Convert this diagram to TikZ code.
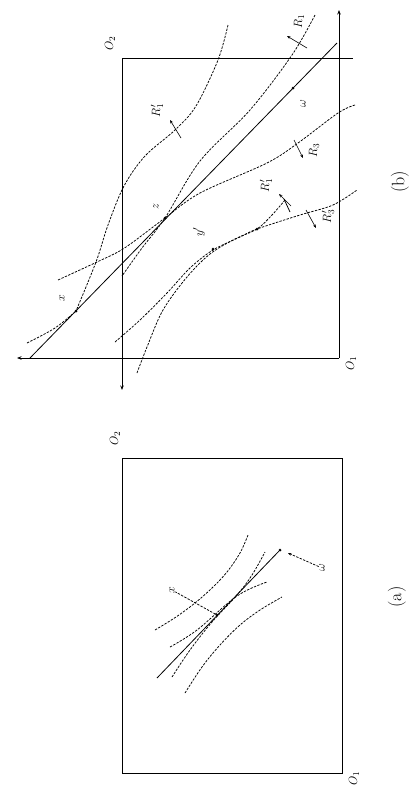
\documentclass[tikz,border=0pt]{standalone}
\usetikzlibrary{arrows.meta}
\begin{document}
\begin{tikzpicture}[x=1pt,y=-1pt,
  axisline/.style={line width=0.9pt},
  axisarrow/.style={line width=0.9pt,-{Stealth[length=4.5pt,width=3.5pt]}},
  solidline/.style={line width=0.8pt},
  curve/.style={line width=0.75pt,dash pattern=on 2.4pt off 1.3pt},
  pref/.style={line width=0.6pt,-{Stealth[length=3.5pt,width=2.8pt]}},
  lbl/.style={rotate=90,inner sep=0.5pt,font=\fontsize{13}{15}\selectfont},
  biglbl/.style={rotate=90,inner sep=0.5pt,font=\fontsize{18}{20}\selectfont},
  ptdot/.style={circle,fill,inner sep=0pt,minimum size=3pt}]
\useasboundingbox (0,0) rectangle (408,788);

% ================= (b) =================
\coordinate (O2b) at (122,58);
\coordinate (O1b) at (339,358);
\coordinate (bTopEnd) at (353,58);
\coordinate (bUp) at (339,10);
\coordinate (bLeft) at (17,358);
\coordinate (bDown) at (122,390);
\draw[axisline] (O2b) -- (bTopEnd);
\draw[axisarrow] (O2b) -- (bDown);
\draw[axisarrow] (O1b) -- (bUp);
\draw[axisarrow] (O1b) -- (bLeft);
\node[lbl] (o2b) at (110,43) {$O_2$};
\node[lbl] (o1b) at (351,363) {$O_1$};

% straight line through x, z, w
\coordinate (sA) at (30,358);
\coordinate (sB) at (337,43);
\draw[solidline] (sA) -- (sB);
\node[ptdot] (xb) at (76,311) {};
\node[ptdot] (zb) at (165,218) {};
\node[ptdot] (wb) at (293,88) {};
\node[ptdot] (yb) at (213,249) {};
\node[ptdot] (vb) at (257,229) {};
\node[lbl] (xlb) at (62,298) {$x$};
\node[lbl] (zlb) at (156,206) {$z$};
\node[lbl] (wlb) at (303,104) {$\omega$};
\node[lbl] (ylb) at (199,232) {$y'$};

% R_1 curve
\draw[curve] plot[smooth,tension=0.55] coordinates {(315,15) (292,55) (250,110) (200,161) (165,218) (142,248) (122,276)};
% R_3 curve
\draw[curve] plot[smooth,tension=0.55] coordinates {(355,105) (338,113) (298,143) (267,163) (200,193) (165,218) (153,227) (123,249) (97,262) (58,280)};
% R'_1 upper curve (ends at x)
\draw[curve] plot[smooth,tension=0.55] coordinates {(228,25) (218,60) (196,106) (175,130) (145,156) (124,186) (108,225) (96,262) (76,311)};
% short curve into x
\draw[curve] plot[smooth,tension=0.6] coordinates {(27,343) (55,328) (76,311)};
% lower curves
\draw[curve] plot[smooth,tension=0.55] coordinates {(115,342) (140,320) (167,293) (190,268) (213,250) (240,237) (257,229) (300,215) (333,205) (357,190)};
\draw[curve] plot[smooth,tension=0.55] coordinates {(137,373) (147,347) (163,310) (187,277) (210,254) (235,239) (257,229) (272,215) (285,200)};
\draw[solidline] (284,199) -- (290,212);

% preference arrows and labels
\draw[pref] (307,48) -- (287,36);
\node[lbl] (lR1) at (299,21) {$R_1$};
\draw[pref] (181,138) -- (170,120);
\node[lbl] (lR1pu) at (157,110) {$R'_1$};
\draw[pref] (294,140) -- (303,158);
\node[lbl] (lR3) at (314,150) {$R_3$};
\draw[pref] (291,206) -- (279,194);
\node[lbl] (lR1pl) at (266,185) {$R'_1$};
\draw[pref] (306,210) -- (316,228);
\node[lbl] (lR3p) at (328,216) {$R'_3$};

\node[biglbl] (capb) at (400,182) {(b)};

% ================= (a) =================
\coordinate (aTL) at (122,458);
\coordinate (aBR) at (342,773);
\draw[axisline] (aTL) rectangle (aBR);
\node[lbl] (o2a) at (115,438) {$O_2$};
\node[lbl] (o1a) at (354,778) {$O_1$};

\draw[curve] plot[smooth,tension=0.6] coordinates {(155,630) (176,617) (195,603) (212,588) (227,572) (240,553) (248,535)};
\coordinate (a2s) at (157,678);
\node[ptdot] (wa) at (280,550) {};
\draw[solidline] (a2s) -- (wa);
\draw[curve] plot[smooth,tension=0.6] coordinates {(172,677) (190,650) (212,622) (237,595) (252,575) (265,552)};
\draw[curve] plot[smooth,tension=0.6] coordinates {(170,647) (197,630) (237,596) (267,582)};
\draw[curve] plot[smooth,tension=0.6] coordinates {(185,693) (202,667) (220,645) (240,625) (260,610) (282,597)};
\node[ptdot] (xa) at (217,615) {};
\node[lbl] (xla) at (172,590) {$x$};
\draw[curve] (xa) -- (xla);
\node[lbl] (wla) at (322,568) {$\omega$};
\draw[curve,-{Stealth[length=3.5pt,width=3pt]}] (wla) -- ([shift={(8pt,-3pt)}]wa.center);

\node[biglbl] (capa) at (397,597) {(a)};
\end{tikzpicture}
\end{document}
